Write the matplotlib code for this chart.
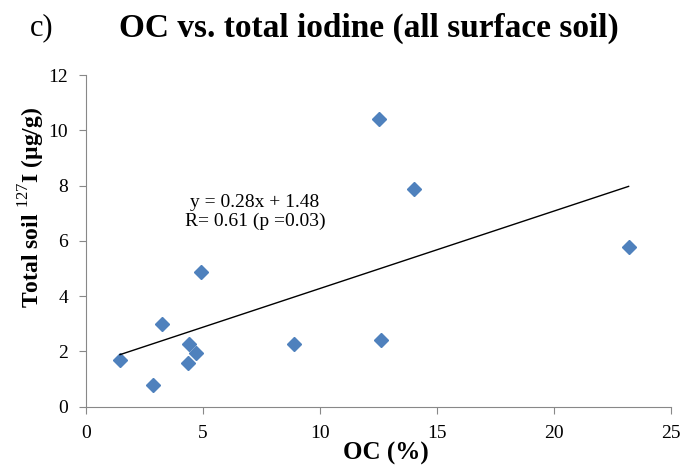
import matplotlib
matplotlib.use("Agg")
import matplotlib.pyplot as plt
import numpy as np

plt.rcParams['font.family'] = ['Liberation Serif', 'DejaVu Serif']
plt.rcParams['mathtext.fontset'] = 'custom'
plt.rcParams['mathtext.rm'] = 'Liberation Serif'
plt.rcParams['mathtext.bf'] = 'Liberation Serif:bold'

# OC (%) and total soil iodine (ug/g), all surface soil samples
oc = [1.45, 2.88, 3.23, 4.40, 4.35, 4.70, 4.91, 8.89, 12.61, 12.52, 14.03, 23.2]
iodine = [1.69, 0.79, 2.99, 2.27, 1.59, 1.93, 4.86, 2.27, 2.42, 10.41, 7.88, 5.77]
slope = 0.28
intercept = 1.48

fig = plt.figure(figsize=(6.83, 4.67), dpi=100)
ax = fig.add_axes([0.126, 0.129, 0.856, 0.71])

ax.plot(oc, iodine, 'D', color='#4F81BD', ms=6.7, mec='#4F81BD')
xl = np.array([min(oc), max(oc)])
ax.plot(xl, slope * xl + intercept, color='black', lw=1.0)

ax.set_xlim(0, 25)
ax.set_ylim(0, 12)
ax.set_xticks([0, 5, 10, 15, 20, 25])
ax.set_yticks([0, 2, 4, 6, 8, 10, 12])
for s in ['top', 'right']:
    ax.spines[s].set_visible(False)
for s in ['left', 'bottom']:
    ax.spines[s].set_color('#888888')
ax.tick_params(direction='out', length=5, color='#888888', labelsize=14, pad=8)

ax.set_xlabel('OC (%)', fontsize=18, fontweight='bold')
ax.xaxis.set_label_coords(0.512, -0.105)
ax.set_ylabel(r'Total soil $^{127}$I (µg/g)', fontsize=17, fontweight='bold')
ax.yaxis.set_label_coords(-0.067, 0.6)

ax.text(0.289, 0.587, 'y = 0.28x + 1.48\nR= 0.61 (p =0.03)', transform=ax.transAxes,
        ha='center', va='center', fontsize=14, linespacing=1.1)

fig.text(0.54, 0.94, 'OC vs. total iodine (all surface soil)', ha='center', va='center',
         fontsize=24, fontweight='bold')
fig.text(0.044, 0.94, 'c)', ha='left', va='center', fontsize=22)

fig.savefig('out.png', dpi=100)
